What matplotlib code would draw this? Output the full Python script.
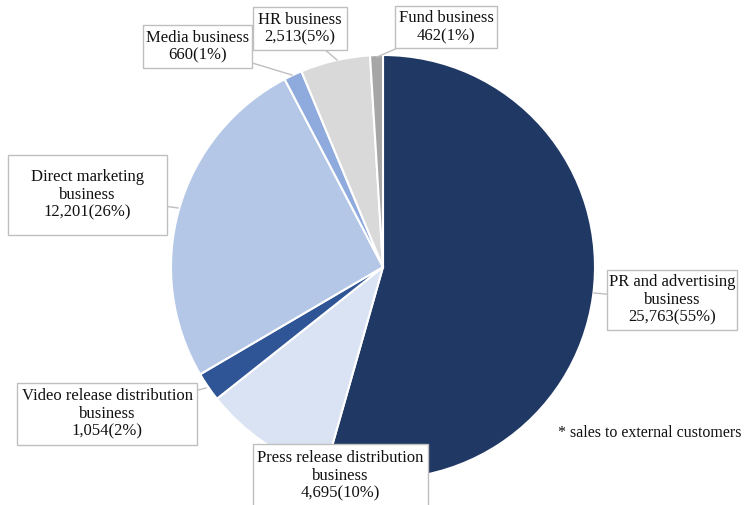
import matplotlib
matplotlib.use('Agg')
import matplotlib.pyplot as plt
from matplotlib.patches import Rectangle

names = ['PR and advertising\nbusiness', 'Press release distribution\nbusiness',
         'Video release distribution\nbusiness', 'Direct marketing\nbusiness',
         'Media business', 'HR business', 'Fund business']
sales = [25763, 4695, 1054, 12201, 660, 2513, 462]
shares = ['55%', '10%', '2%', '26%', '1%', '5%', '1%']
colors = ['#203864', '#dae3f3', '#2f5597', '#b4c7e7', '#8faadc', '#d9d9d9', '#a6a6a6']

# label boxes (x0, y0, x1, y1) and leader tips, pixel units with y from top
boxes = [(607, 270, 737, 330), (253, 444, 428, 507), (17, 383, 197, 445),
         (8, 155, 167, 235), (143, 25, 252, 68), (253, 7, 347, 50), (395, 6, 497, 48)]
tips = [(594, 293), None, (206, 388), (178, 208), (292, 75), (337, 60), (377, 57)]

W, H = 744, 505
fig = plt.figure(figsize=(W / 100, H / 100), dpi=100)
ax = fig.add_axes([0, 0, 1, 1])

ax.pie(sales, colors=colors, startangle=90, counterclock=False,
       center=(383, H - 267), radius=212,
       wedgeprops=dict(edgecolor='white', linewidth=1.5))
ax.set_xlim(0, W)
ax.set_ylim(0, H)
ax.set_aspect('equal')
ax.axis('off')

font = dict(family='Liberation Serif', size=12, color='#111111')
for name, val, pct, (x0, y0, x1, y1), tip in zip(names, sales, shares, boxes, tips):
    cx, cy = (x0 + x1) / 2, H - (y0 + y1) / 2
    if tip is not None:
        ax.plot([cx, tip[0]], [cy, H - tip[1]], color='#bfbfbf', lw=1, zorder=4)
    ax.add_patch(Rectangle((x0, H - y1), x1 - x0, y1 - y0, fc='white',
                           ec='#bfbfbf', lw=1, zorder=5, clip_on=False))
    ax.text(cx, cy, f'{name}\n{val:,}({pct})', ha='center', va='center',
            linespacing=1.15, zorder=6, **font)

ax.text(741, H - 433, '* sales to external customers', ha='right', va='center',
        family='Liberation Serif', size=11.5, color='#111111')

fig.savefig('out.png', dpi=100)
